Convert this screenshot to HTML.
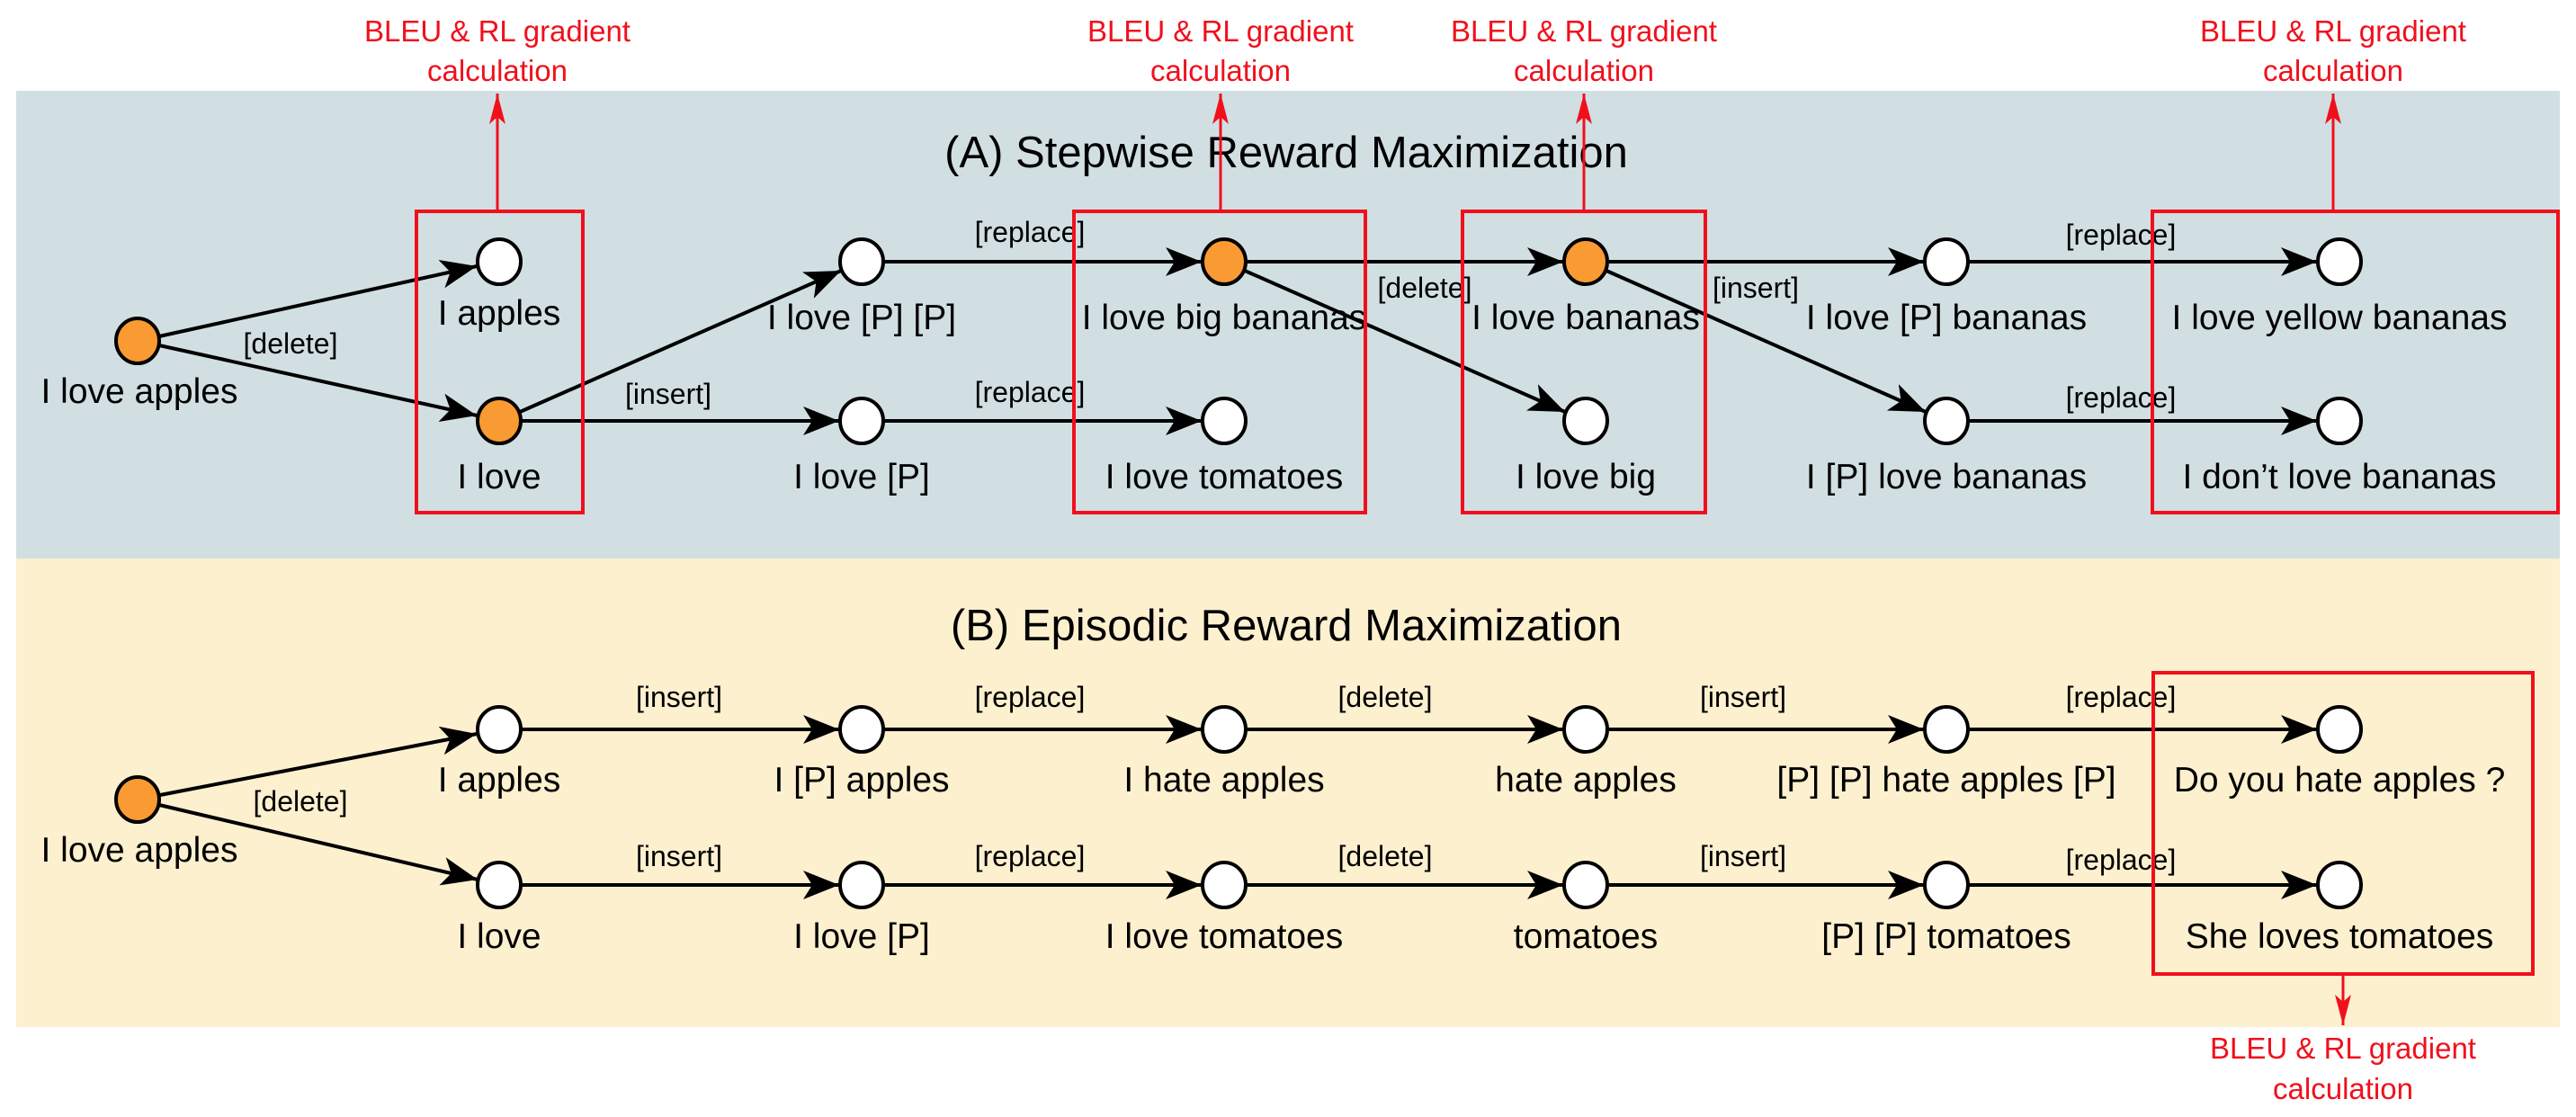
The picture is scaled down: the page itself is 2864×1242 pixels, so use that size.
<!DOCTYPE html>
<html><head><meta charset="utf-8"><style>
html,body{margin:0;padding:0;background:#fff}
svg{display:block}
text{font-family:"Liberation Sans",Arial,sans-serif}
.n{font-size:39px;fill:#000;text-anchor:middle}
.e{font-size:32px;fill:#000;text-anchor:middle}
.r{font-size:33px;fill:#f0101c;text-anchor:middle}
.t{font-size:49px;fill:#000;text-anchor:middle}
.l{stroke:#000;stroke-width:4;fill:none}
.w{fill:#fff;stroke:#000;stroke-width:4}
.o{fill:#f99a32;stroke:#000;stroke-width:4}
.b{fill:none;stroke:#f0101c;stroke-width:4}
.ra{stroke:#f0101c;stroke-width:3;fill:none}
</style></head><body>
<svg width="2864" height="1242" viewBox="0 0 2864 1242" xmlns="http://www.w3.org/2000/svg">
<defs>
<marker id="a" markerUnits="userSpaceOnUse" markerWidth="40" markerHeight="32" refX="40" refY="16" orient="auto">
<path d="M0,0 L40,16 L0,32 L10,16 Z" fill="#000"/></marker>
<marker id="ar" markerUnits="userSpaceOnUse" markerWidth="34" markerHeight="18" refX="34" refY="9" orient="auto">
<path d="M0,0 L34,9 L0,18 L8,9 Z" fill="#f0101c"/></marker>
</defs>
<rect x="18" y="101" width="2828" height="520" fill="#d1dfe3"/>
<rect x="18" y="621" width="2828" height="521" fill="#fdf0cf"/>
<text class="t" x="1430" y="186">(A) Stepwise Reward Maximization</text>
<text class="t" x="1430" y="712">(B) Episodic Reward Maximization</text>

<g class="l">
<line x1="177" y1="374" x2="530" y2="296" marker-end="url(#a)"/>
<line x1="177" y1="384" x2="530" y2="462" marker-end="url(#a)"/>
<line x1="578" y1="458" x2="935" y2="301" marker-end="url(#a)"/>
<line x1="580" y1="468" x2="933" y2="468" marker-end="url(#a)"/>
<line x1="983" y1="291" x2="1336" y2="291" marker-end="url(#a)"/>
<line x1="983" y1="468" x2="1336" y2="468" marker-end="url(#a)"/>
<line x1="1386" y1="291" x2="1738" y2="291" marker-end="url(#a)"/>
<line x1="1384" y1="301" x2="1740" y2="458" marker-end="url(#a)"/>
<line x1="1788" y1="291" x2="2139" y2="291" marker-end="url(#a)"/>
<line x1="1786" y1="301" x2="2141" y2="458" marker-end="url(#a)"/>
<line x1="2189" y1="291" x2="2576" y2="291" marker-end="url(#a)"/>
<line x1="2189" y1="468" x2="2576" y2="468" marker-end="url(#a)"/>
</g>
<g class="l">
<line x1="178" y1="884" x2="530" y2="816" marker-end="url(#a)"/>
<line x1="177" y1="895" x2="531" y2="978" marker-end="url(#a)"/>
<line x1="580" y1="811" x2="933" y2="811" marker-end="url(#a)"/>
<line x1="983" y1="811" x2="1336" y2="811" marker-end="url(#a)"/>
<line x1="1386" y1="811" x2="1738" y2="811" marker-end="url(#a)"/>
<line x1="1788" y1="811" x2="2139" y2="811" marker-end="url(#a)"/>
<line x1="2189" y1="811" x2="2576" y2="811" marker-end="url(#a)"/>
<line x1="580" y1="984" x2="933" y2="984" marker-end="url(#a)"/>
<line x1="983" y1="984" x2="1336" y2="984" marker-end="url(#a)"/>
<line x1="1386" y1="984" x2="1738" y2="984" marker-end="url(#a)"/>
<line x1="1788" y1="984" x2="2139" y2="984" marker-end="url(#a)"/>
<line x1="2189" y1="984" x2="2576" y2="984" marker-end="url(#a)"/>
</g>

<ellipse class="o" cx="153" cy="379" rx="24" ry="25"/>
<ellipse class="w" cx="555" cy="291" rx="24" ry="25"/>
<ellipse class="o" cx="555" cy="468" rx="24" ry="25"/>
<ellipse class="w" cx="958" cy="291" rx="24" ry="25"/>
<ellipse class="w" cx="958" cy="468" rx="24" ry="25"/>
<ellipse class="o" cx="1361" cy="291" rx="24" ry="25"/>
<ellipse class="w" cx="1361" cy="468" rx="24" ry="25"/>
<ellipse class="o" cx="1763" cy="291" rx="24" ry="25"/>
<ellipse class="w" cx="1763" cy="468" rx="24" ry="25"/>
<ellipse class="w" cx="2164" cy="291" rx="24" ry="25"/>
<ellipse class="w" cx="2164" cy="468" rx="24" ry="25"/>
<ellipse class="w" cx="2601" cy="291" rx="24" ry="25"/>
<ellipse class="w" cx="2601" cy="468" rx="24" ry="25"/>
<ellipse class="o" cx="153" cy="889" rx="24" ry="25"/>
<ellipse class="w" cx="555" cy="811" rx="24" ry="25"/>
<ellipse class="w" cx="958" cy="811" rx="24" ry="25"/>
<ellipse class="w" cx="1361" cy="811" rx="24" ry="25"/>
<ellipse class="w" cx="1763" cy="811" rx="24" ry="25"/>
<ellipse class="w" cx="2164" cy="811" rx="24" ry="25"/>
<ellipse class="w" cx="2601" cy="811" rx="24" ry="25"/>
<ellipse class="w" cx="555" cy="984" rx="24" ry="25"/>
<ellipse class="w" cx="958" cy="984" rx="24" ry="25"/>
<ellipse class="w" cx="1361" cy="984" rx="24" ry="25"/>
<ellipse class="w" cx="1763" cy="984" rx="24" ry="25"/>
<ellipse class="w" cx="2164" cy="984" rx="24" ry="25"/>
<ellipse class="w" cx="2601" cy="984" rx="24" ry="25"/>

<text class="n" x="155" y="448">I love apples</text>
<text class="n" x="555" y="361">I apples</text>
<text class="n" x="555" y="543">I love</text>
<text class="n" x="958" y="366">I love [P] [P]</text>
<text class="n" x="958" y="543">I love [P]</text>
<text class="n" x="1361" y="366">I love big bananas</text>
<text class="n" x="1361" y="543">I love tomatoes</text>
<text class="n" x="1763" y="366">I love bananas</text>
<text class="n" x="1763" y="543">I love big</text>
<text class="n" x="2164" y="366">I love [P] bananas</text>
<text class="n" x="2164" y="543">I [P] love bananas</text>
<text class="n" x="2601" y="366">I love yellow bananas</text>
<text class="n" x="2601" y="543">I don’t love bananas</text>
<text class="e" x="323" y="393">[delete]</text>
<text class="e" x="743" y="449">[insert]</text>
<text class="e" x="1145" y="269">[replace]</text>
<text class="e" x="1145" y="447">[replace]</text>
<text class="e" x="1584" y="331">[delete]</text>
<text class="e" x="1952" y="331">[insert]</text>
<text class="e" x="2358" y="272">[replace]</text>
<text class="e" x="2358" y="453">[replace]</text>
<text class="n" x="155" y="958">I love apples</text>
<text class="n" x="555" y="880">I apples</text>
<text class="n" x="958" y="880">I [P] apples</text>
<text class="n" x="1361" y="880">I hate apples</text>
<text class="n" x="1763" y="880">hate apples</text>
<text class="n" x="2164" y="880">[P] [P] hate apples [P]</text>
<text class="n" x="2601" y="880">Do you hate apples ?</text>
<text class="n" x="555" y="1054">I love</text>
<text class="n" x="958" y="1054">I love [P]</text>
<text class="n" x="1361" y="1054">I love tomatoes</text>
<text class="n" x="1763" y="1054">tomatoes</text>
<text class="n" x="2164" y="1054">[P] [P] tomatoes</text>
<text class="n" x="2601" y="1054">She loves tomatoes</text>
<text class="e" x="334" y="902">[delete]</text>
<text class="e" x="755" y="786">[insert]</text>
<text class="e" x="1145" y="786">[replace]</text>
<text class="e" x="1540" y="786">[delete]</text>
<text class="e" x="1938" y="786">[insert]</text>
<text class="e" x="2358" y="786">[replace]</text>
<text class="e" x="755" y="963">[insert]</text>
<text class="e" x="1145" y="963">[replace]</text>
<text class="e" x="1540" y="963">[delete]</text>
<text class="e" x="1938" y="963">[insert]</text>
<text class="e" x="2358" y="967">[replace]</text>

<rect class="b" x="463" y="235" width="185" height="335"/>
<rect class="b" x="1194" y="235" width="324" height="335"/>
<rect class="b" x="1626" y="235" width="270" height="335"/>
<rect class="b" x="2393" y="235" width="451" height="335"/>
<rect class="b" x="2394" y="748" width="422" height="335"/>
<line class="ra" x1="553" y1="235" x2="553" y2="104" marker-end="url(#ar)"/>
<line class="ra" x1="1357" y1="235" x2="1357" y2="104" marker-end="url(#ar)"/>
<line class="ra" x1="1761" y1="235" x2="1761" y2="104" marker-end="url(#ar)"/>
<line class="ra" x1="2594" y1="235" x2="2594" y2="104" marker-end="url(#ar)"/>
<line class="ra" x1="2605" y1="1083" x2="2605" y2="1140" marker-end="url(#ar)"/>
<text class="r" x="553" y="46">BLEU &amp; RL gradient</text>
<text class="r" x="553" y="90">calculation</text>
<text class="r" x="1357" y="46">BLEU &amp; RL gradient</text>
<text class="r" x="1357" y="90">calculation</text>
<text class="r" x="1761" y="46">BLEU &amp; RL gradient</text>
<text class="r" x="1761" y="90">calculation</text>
<text class="r" x="2594" y="46">BLEU &amp; RL gradient</text>
<text class="r" x="2594" y="90">calculation</text>
<text class="r" x="2605" y="1177">BLEU &amp; RL gradient</text>
<text class="r" x="2605" y="1222">calculation</text>
</svg>
</body></html>
